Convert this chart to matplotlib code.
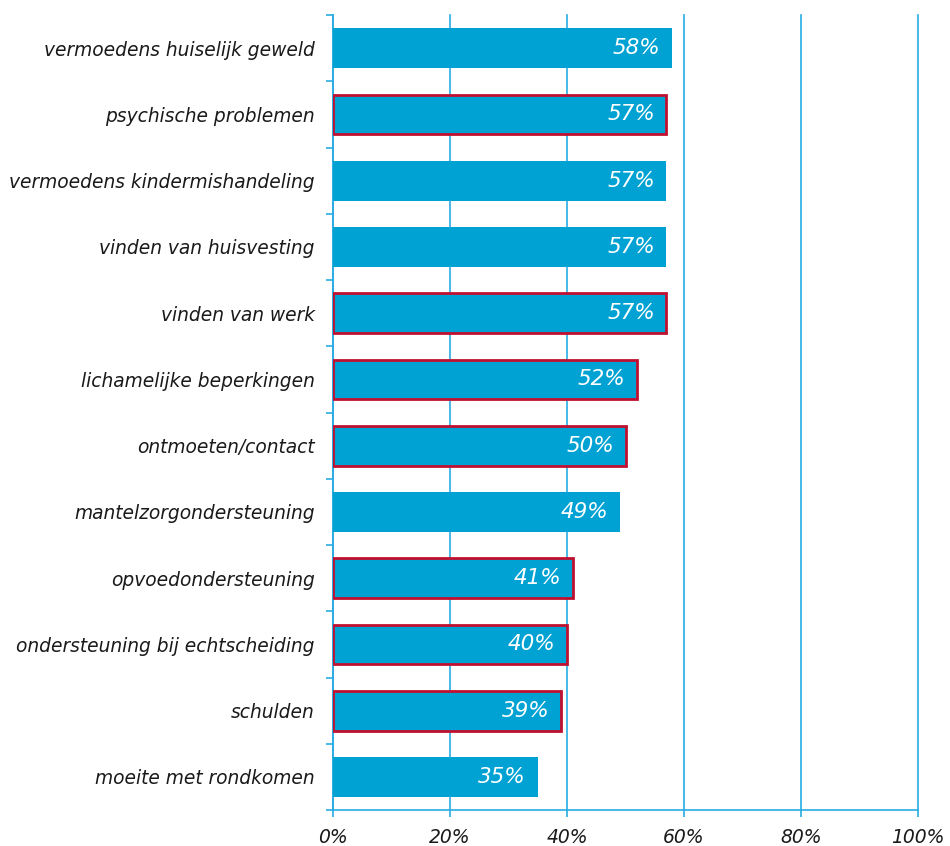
import matplotlib.pyplot as plt
import numpy as np
from matplotlib.ticker import FixedLocator

plt.rcParams['font.family'] = ['DejaVu Sans']

categories = ['vermoedens huiselijk geweld', 'psychische problemen',
              'vermoedens kindermishandeling', 'vinden van huisvesting',
              'vinden van werk', 'lichamelijke beperkingen', 'ontmoeten/contact',
              'mantelzorgondersteuning', 'opvoedondersteuning',
              'ondersteuning bij echtscheiding', 'schulden', 'moeite met rondkomen']
values = [58, 57, 57, 57, 57, 52, 50, 49, 41, 40, 39, 35]
outlined = [False, True, False, False, True, True, True, False, True, True, True, False]
xticks = [0, 20, 40, 60, 80, 100]

blue = '#00A2D3'
line_blue = '#29ABE2'
red = '#C0102F'
txt = '#1a1a1a'

fig = plt.figure(figsize=(9.5, 8.46), dpi=100)
ax = fig.add_axes([333/950, 1 - 810/846, 585/950, 795/846])

n = len(categories)
y = np.arange(n)[::-1]
for yi, v, o in zip(y, values, outlined):
    if o:
        ax.barh(yi, v, height=0.6, color=blue, edgecolor=red, linewidth=2, zorder=3)
    else:
        ax.barh(yi, v, height=0.6, color=blue, linewidth=0, zorder=3)
    ax.text(v - 2.0, yi, f'{v}%', ha='right', va='center', color='white',
            fontsize=15.5, style='italic', zorder=4)

ax.set_xlim(0, 100)
ax.set_ylim(-0.5, n - 0.5)
ax.set_xticks(xticks)
ax.set_xticklabels([f'{t}%' for t in xticks], fontsize=13.5, style='italic', color=txt)
ax.set_yticks(y)
ax.set_yticklabels(categories, fontsize=13.4, style='italic', color=txt)
ax.yaxis.set_minor_locator(FixedLocator(np.arange(-0.5, n, 1)))
ax.tick_params(axis='y', which='major', length=0, pad=13)
ax.tick_params(axis='y', which='minor', length=5, color=line_blue, width=1.2)
ax.tick_params(axis='x', length=5, color=line_blue, width=1.2, pad=8)

ax.grid(axis='x', color=line_blue, linewidth=1.2, zorder=0)
for gl in ax.get_xgridlines():
    gl.set_clip_on(False)
for s in ['top', 'right']:
    ax.spines[s].set_visible(False)
for s in ['left', 'bottom']:
    ax.spines[s].set_color(line_blue)
    ax.spines[s].set_linewidth(1.2)

fig.savefig('out.png', dpi=100)
